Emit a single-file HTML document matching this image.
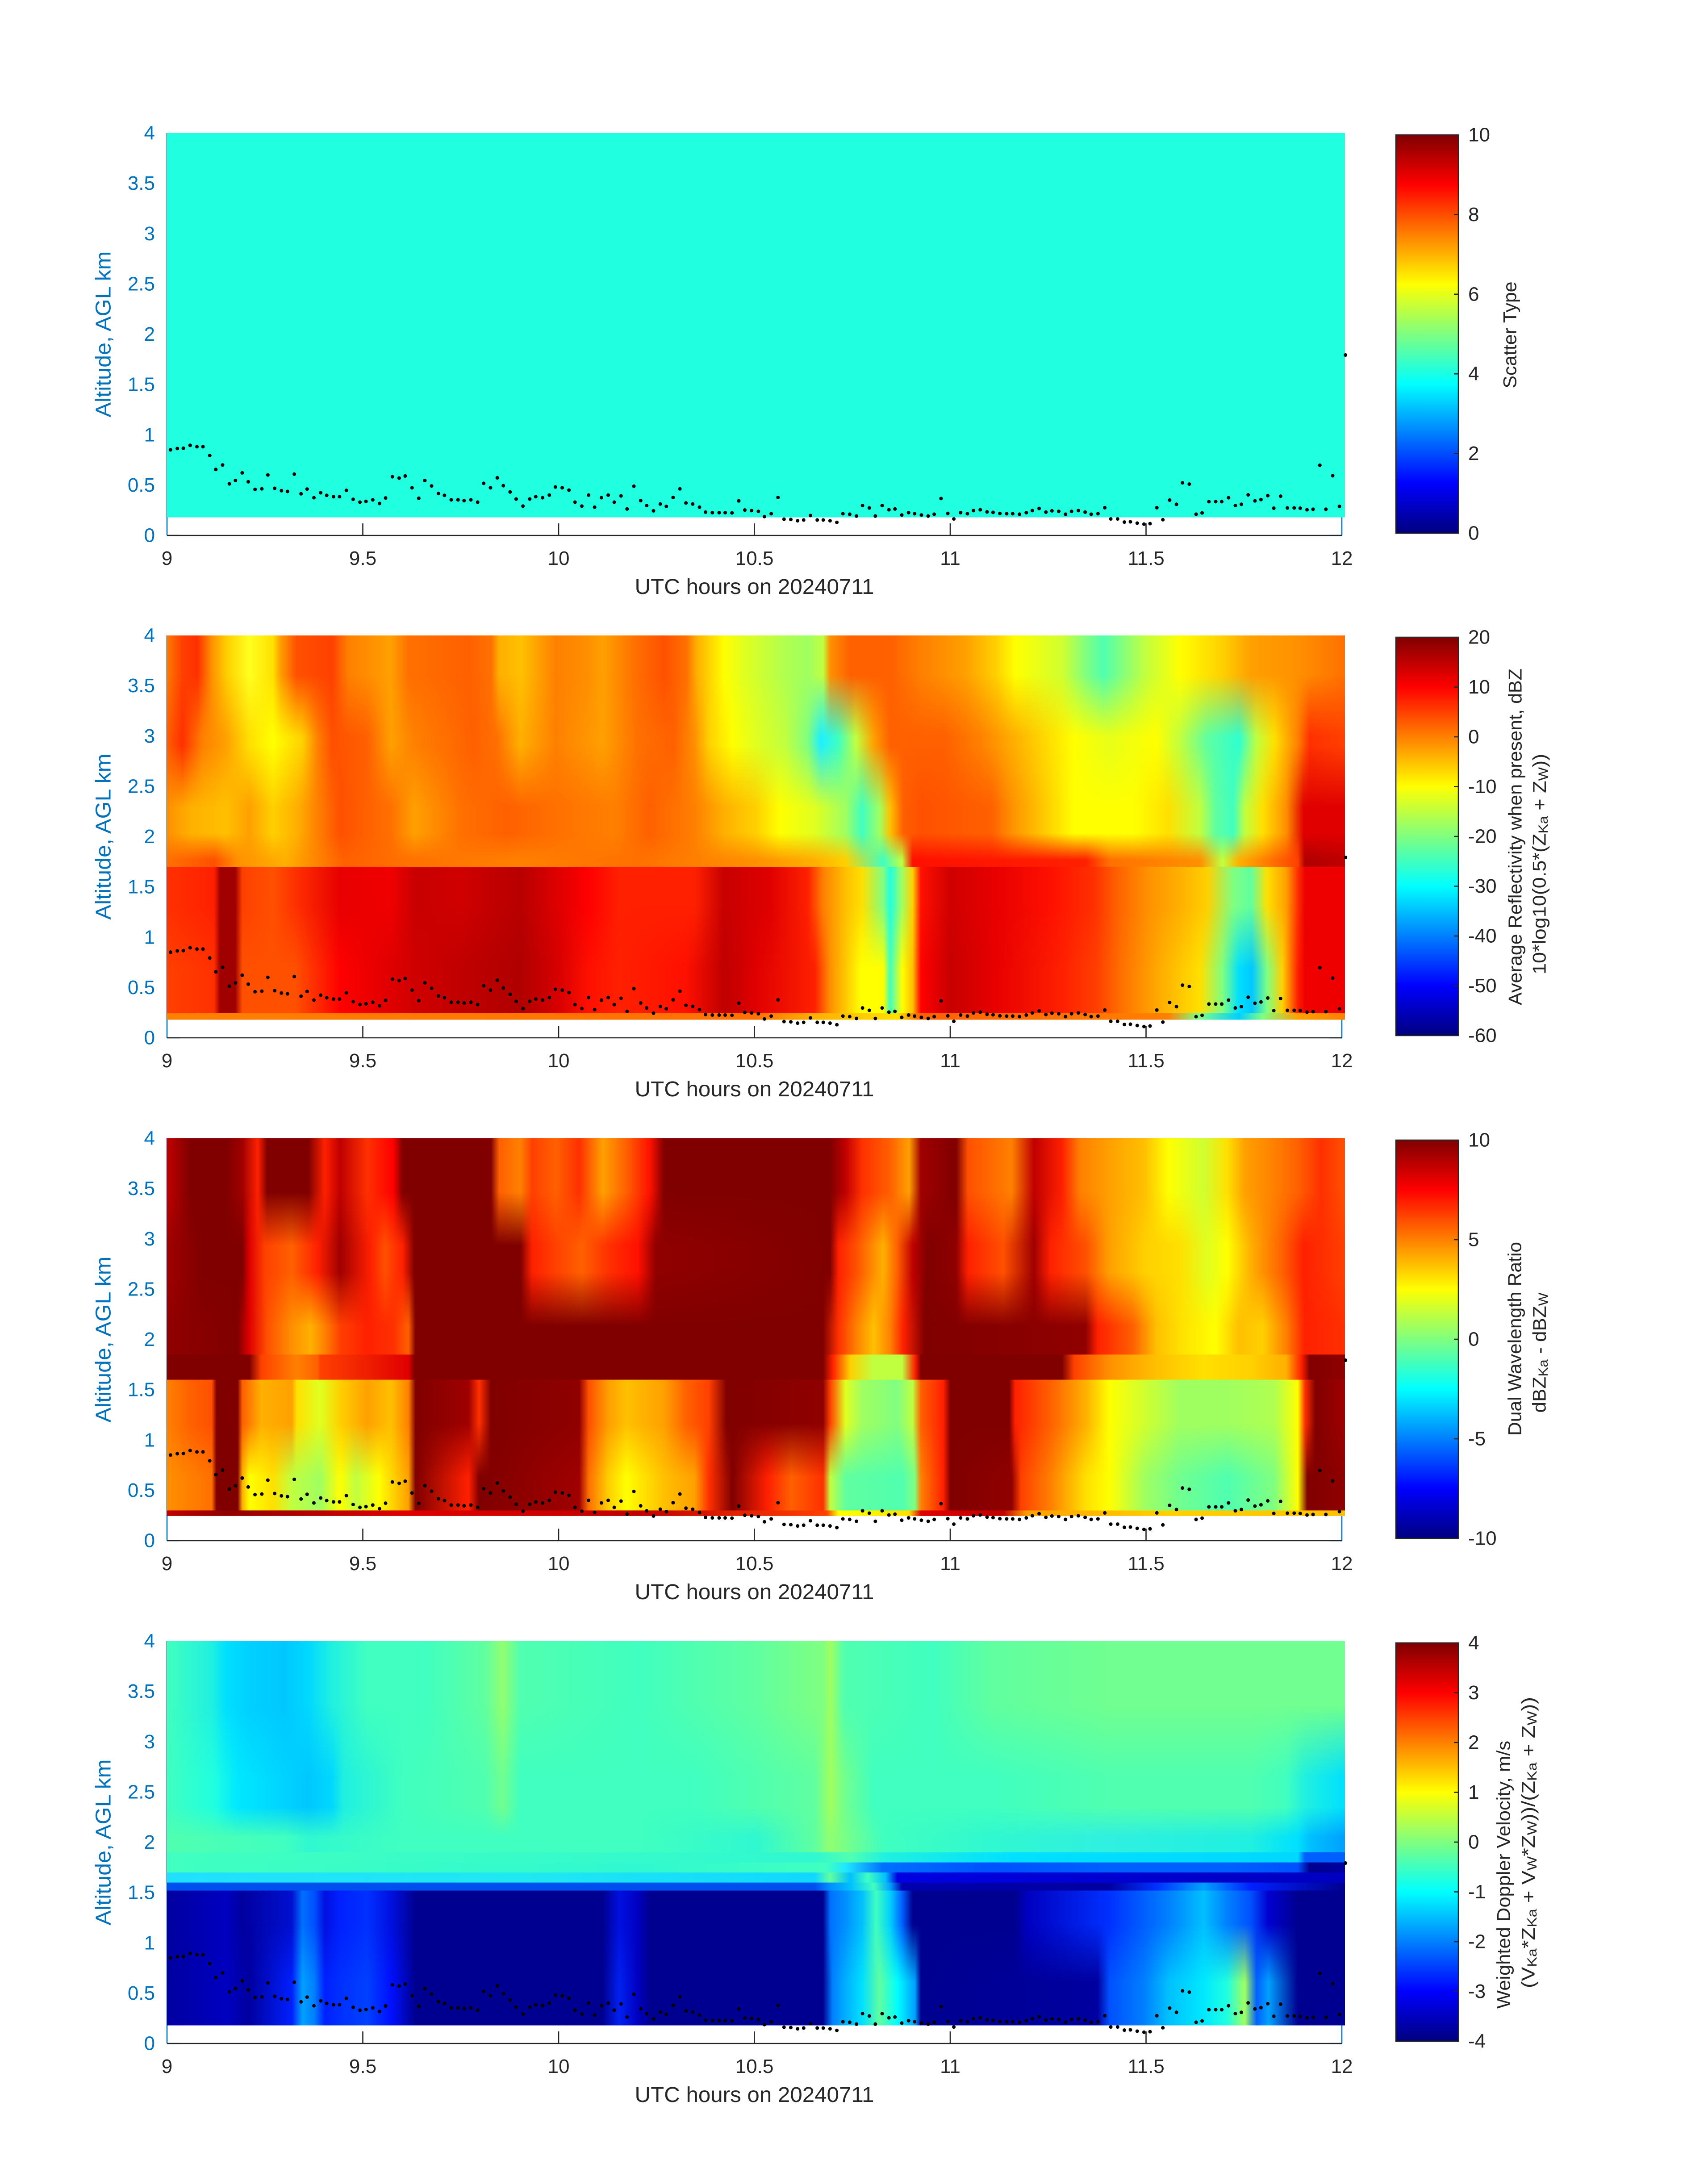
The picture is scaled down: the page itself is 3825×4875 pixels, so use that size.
<!DOCTYPE html>
<html><head><meta charset="utf-8"><style>
html,body{margin:0;padding:0;background:#fff;}
svg{display:block;}
text{font-family:"Liberation Sans",Arial,sans-serif;}
</style></head><body>
<svg width="3825" height="4875" viewBox="0 0 3825 4875">
<defs>
<linearGradient id="jet" x1="0" y1="1" x2="0" y2="0">
<stop offset="0" stop-color="#000080"/><stop offset=".125" stop-color="#0000ff"/><stop offset=".375" stop-color="#00ffff"/><stop offset=".625" stop-color="#ffff00"/><stop offset=".875" stop-color="#ff0000"/><stop offset="1" stop-color="#800000"/>
</linearGradient>
<linearGradient id="fa" x1="0" y1="0" x2="0" y2="1"><stop offset="0" stop-color="#fff" stop-opacity="0"/><stop offset="1" stop-color="#fff" stop-opacity="0.5"/></linearGradient>
<linearGradient id="fb" x1="0" y1="0" x2="0" y2="1"><stop offset="0" stop-color="#fff" stop-opacity="0.5"/><stop offset="1" stop-color="#fff" stop-opacity="0"/></linearGradient>
<mask id="mA" maskContentUnits="objectBoundingBox"><rect width="1" height="1" fill="url(#fa)"/></mask>
<mask id="mB" maskContentUnits="objectBoundingBox"><rect width="1" height="1" fill="url(#fb)"/></mask>

<!-- Panel 2 -->
<linearGradient id="g2a1"><stop offset="0%" stop-color="#ff7a00"/><stop offset="1.3%" stop-color="#ff4000"/><stop offset="2.6%" stop-color="#ff3000"/><stop offset="3.8%" stop-color="#ff9000"/><stop offset="5.1%" stop-color="#ffd000"/><stop offset="7%" stop-color="#ffff20"/><stop offset="9%" stop-color="#ffe000"/><stop offset="9.6%" stop-color="#ffa000"/><stop offset="11%" stop-color="#ff5000"/><stop offset="14%" stop-color="#ff4000"/><stop offset="15.4%" stop-color="#ff8000"/><stop offset="19%" stop-color="#ffa000"/><stop offset="20.5%" stop-color="#ff7000"/><stop offset="25.6%" stop-color="#ff6000"/><stop offset="27.5%" stop-color="#ff7000"/><stop offset="28.2%" stop-color="#ffb000"/><stop offset="30.1%" stop-color="#ffc000"/><stop offset="33%" stop-color="#ff8000"/><stop offset="35.8%" stop-color="#ff9000"/><stop offset="37%" stop-color="#ffa000"/><stop offset="39.7%" stop-color="#ff7000"/><stop offset="42.2%" stop-color="#ff5000"/><stop offset="44.1%" stop-color="#ff7000"/><stop offset="45%" stop-color="#ffb000"/><stop offset="47.3%" stop-color="#ffff00"/><stop offset="49%" stop-color="#e0ff20"/><stop offset="52.5%" stop-color="#b0ff50"/><stop offset="54.4%" stop-color="#a0ff60"/><stop offset="55.7%" stop-color="#c0ff40"/><stop offset="56.3%" stop-color="#ff9000"/><stop offset="58%" stop-color="#ff6000"/><stop offset="61.4%" stop-color="#ff6000"/><stop offset="64%" stop-color="#ff8000"/><stop offset="67.8%" stop-color="#ffa000"/><stop offset="70.4%" stop-color="#ffd000"/><stop offset="72%" stop-color="#ffff00"/><stop offset="76%" stop-color="#d0ff30"/><stop offset="78%" stop-color="#80ff80"/><stop offset="79.5%" stop-color="#50ffb0"/><stop offset="81%" stop-color="#80ff80"/><stop offset="83%" stop-color="#c0ff40"/><stop offset="86%" stop-color="#ffff00"/><stop offset="89.6%" stop-color="#ffd000"/><stop offset="92%" stop-color="#ffa000"/><stop offset="96%" stop-color="#ff9000"/><stop offset="100%" stop-color="#ff7000"/></linearGradient>
<linearGradient id="g2a2"><stop offset="0%" stop-color="#ff6000"/><stop offset="1.3%" stop-color="#ff3000"/><stop offset="3%" stop-color="#ff8000"/><stop offset="5%" stop-color="#ffa000"/><stop offset="7%" stop-color="#ffe000"/><stop offset="9%" stop-color="#ffff00"/><stop offset="11.5%" stop-color="#ffd000"/><stop offset="12.8%" stop-color="#ff8000"/><stop offset="14%" stop-color="#ff5000"/><stop offset="17%" stop-color="#ff6000"/><stop offset="19%" stop-color="#ffa000"/><stop offset="21%" stop-color="#ff8000"/><stop offset="26%" stop-color="#ff6000"/><stop offset="28%" stop-color="#ff7000"/><stop offset="30%" stop-color="#ffb000"/><stop offset="33%" stop-color="#ff8000"/><stop offset="37%" stop-color="#ffa000"/><stop offset="40%" stop-color="#ff7000"/><stop offset="43%" stop-color="#ff6000"/><stop offset="44.8%" stop-color="#ff9000"/><stop offset="46%" stop-color="#ffd000"/><stop offset="48%" stop-color="#ffff00"/><stop offset="50%" stop-color="#e0ff20"/><stop offset="52.5%" stop-color="#c0ff40"/><stop offset="54.4%" stop-color="#80ff80"/><stop offset="55.5%" stop-color="#20f0ff"/><stop offset="57%" stop-color="#40ffc0"/><stop offset="58.5%" stop-color="#c0ff40"/><stop offset="60%" stop-color="#ffa000"/><stop offset="61.4%" stop-color="#ff6000"/><stop offset="66%" stop-color="#ff6000"/><stop offset="69%" stop-color="#ff8000"/><stop offset="72%" stop-color="#ffb000"/><stop offset="74%" stop-color="#ffd000"/><stop offset="77%" stop-color="#ffff00"/><stop offset="80%" stop-color="#e8ff18"/><stop offset="84%" stop-color="#ffff00"/><stop offset="86%" stop-color="#c0ff40"/><stop offset="88.3%" stop-color="#60ffa0"/><stop offset="91%" stop-color="#30ffd0"/><stop offset="92.5%" stop-color="#c0ff40"/><stop offset="94%" stop-color="#ffe000"/><stop offset="96%" stop-color="#ff8000"/><stop offset="97%" stop-color="#ff3000"/><stop offset="100%" stop-color="#ff4000"/></linearGradient>
<linearGradient id="g2b"><stop offset="0%" stop-color="#ff9000"/><stop offset="2%" stop-color="#ffb000"/><stop offset="5%" stop-color="#ffc000"/><stop offset="7%" stop-color="#ffa000"/><stop offset="9%" stop-color="#ffd000"/><stop offset="11%" stop-color="#ffb000"/><stop offset="12.8%" stop-color="#ff8000"/><stop offset="14.7%" stop-color="#ff5000"/><stop offset="19%" stop-color="#ff7000"/><stop offset="21%" stop-color="#ffa000"/><stop offset="25%" stop-color="#ff7000"/><stop offset="28.8%" stop-color="#ff6000"/><stop offset="33%" stop-color="#ff7000"/><stop offset="38%" stop-color="#ff8000"/><stop offset="41%" stop-color="#ff6000"/><stop offset="44.8%" stop-color="#ff8000"/><stop offset="47.3%" stop-color="#ffb000"/><stop offset="50%" stop-color="#ffd000"/><stop offset="52%" stop-color="#ffff00"/><stop offset="55%" stop-color="#e0ff20"/><stop offset="57.6%" stop-color="#a0ff60"/><stop offset="59%" stop-color="#40ffc0"/><stop offset="60.5%" stop-color="#a0ff60"/><stop offset="61.4%" stop-color="#ffc000"/><stop offset="62.5%" stop-color="#ff6000"/><stop offset="64%" stop-color="#ff5000"/><stop offset="70%" stop-color="#ff6000"/><stop offset="71.7%" stop-color="#ff9000"/><stop offset="74%" stop-color="#ffc000"/><stop offset="77%" stop-color="#ffff00"/><stop offset="82%" stop-color="#ffff00"/><stop offset="85%" stop-color="#ffe000"/><stop offset="87.7%" stop-color="#c0ff40"/><stop offset="89%" stop-color="#60ffa0"/><stop offset="90.5%" stop-color="#40ffc0"/><stop offset="91.5%" stop-color="#c0ff40"/><stop offset="93%" stop-color="#ffe000"/><stop offset="95%" stop-color="#ff9000"/><stop offset="96.5%" stop-color="#e00000"/><stop offset="100%" stop-color="#e00000"/></linearGradient>
<linearGradient id="g2c"><stop offset="0%" stop-color="#ff7000"/><stop offset="4%" stop-color="#ff5000"/><stop offset="6%" stop-color="#ff9000"/><stop offset="10%" stop-color="#ffb000"/><stop offset="15%" stop-color="#ff6000"/><stop offset="20%" stop-color="#ff7000"/><stop offset="30%" stop-color="#ff8000"/><stop offset="40%" stop-color="#ff7000"/><stop offset="50%" stop-color="#ff9000"/><stop offset="55%" stop-color="#ffb000"/><stop offset="57.6%" stop-color="#ffd000"/><stop offset="60.8%" stop-color="#40ffc0"/><stop offset="62.4%" stop-color="#c0ff40"/><stop offset="63.3%" stop-color="#ff1000"/><stop offset="78%" stop-color="#ff2000"/><stop offset="80%" stop-color="#ff7000"/><stop offset="87.7%" stop-color="#ff9000"/><stop offset="89.6%" stop-color="#c0ff40"/><stop offset="91%" stop-color="#ffb000"/><stop offset="96%" stop-color="#ff4000"/><stop offset="96.6%" stop-color="#b00000"/><stop offset="100%" stop-color="#c00000"/></linearGradient>
<linearGradient id="g2d1"><stop offset="0%" stop-color="#ff3000"/><stop offset="4%" stop-color="#ff2000"/><stop offset="4.5%" stop-color="#a00000"/><stop offset="5.8%" stop-color="#a00000"/><stop offset="6.4%" stop-color="#ff4000"/><stop offset="9%" stop-color="#ff5000"/><stop offset="10.9%" stop-color="#ff3000"/><stop offset="14.7%" stop-color="#e80000"/><stop offset="19%" stop-color="#f00000"/><stop offset="21.1%" stop-color="#c80000"/><stop offset="25%" stop-color="#d00000"/><stop offset="28%" stop-color="#c00000"/><stop offset="30%" stop-color="#b80000"/><stop offset="33.3%" stop-color="#e00000"/><stop offset="35.8%" stop-color="#ff0000"/><stop offset="38.4%" stop-color="#ff2000"/><stop offset="44.8%" stop-color="#ff2000"/><stop offset="47.3%" stop-color="#c80000"/><stop offset="51.2%" stop-color="#e00000"/><stop offset="54.4%" stop-color="#ff2000"/><stop offset="55.7%" stop-color="#ff8000"/><stop offset="57.6%" stop-color="#ffc000"/><stop offset="59%" stop-color="#ffe000"/><stop offset="60.8%" stop-color="#80ff80"/><stop offset="61.4%" stop-color="#20ffe0"/><stop offset="62.4%" stop-color="#a0ff60"/><stop offset="63.3%" stop-color="#ffd000"/><stop offset="64%" stop-color="#ff1000"/><stop offset="66.5%" stop-color="#d00000"/><stop offset="70.4%" stop-color="#e80000"/><stop offset="75%" stop-color="#ff1000"/><stop offset="78.7%" stop-color="#ff3000"/><stop offset="80.6%" stop-color="#ff6000"/><stop offset="83.2%" stop-color="#ff9000"/><stop offset="86%" stop-color="#ffb000"/><stop offset="88.3%" stop-color="#ffd000"/><stop offset="90.5%" stop-color="#80ff80"/><stop offset="92%" stop-color="#60ffa0"/><stop offset="93.4%" stop-color="#ffe000"/><stop offset="95%" stop-color="#ffa000"/><stop offset="96%" stop-color="#ff3000"/><stop offset="96.6%" stop-color="#ee0000"/><stop offset="100%" stop-color="#ee0000"/></linearGradient>
<linearGradient id="g2d2"><stop offset="0%" stop-color="#ff4000"/><stop offset="4%" stop-color="#ff3000"/><stop offset="4.5%" stop-color="#a00000"/><stop offset="5.8%" stop-color="#a00000"/><stop offset="6.4%" stop-color="#ff5000"/><stop offset="10.9%" stop-color="#ff5000"/><stop offset="14.7%" stop-color="#ff0000"/><stop offset="21%" stop-color="#d00000"/><stop offset="25%" stop-color="#c00000"/><stop offset="30%" stop-color="#b00000"/><stop offset="33.3%" stop-color="#d80000"/><stop offset="35.8%" stop-color="#ff1000"/><stop offset="38.4%" stop-color="#ff2000"/><stop offset="44%" stop-color="#ff1000"/><stop offset="47.3%" stop-color="#c00000"/><stop offset="50%" stop-color="#e00000"/><stop offset="55%" stop-color="#ff2000"/><stop offset="56.3%" stop-color="#ff9000"/><stop offset="58.9%" stop-color="#ffff00"/><stop offset="60.8%" stop-color="#ffff00"/><stop offset="61.4%" stop-color="#40ffc0"/><stop offset="62.4%" stop-color="#ffff00"/><stop offset="63.3%" stop-color="#ffc000"/><stop offset="64%" stop-color="#ff0000"/><stop offset="66.5%" stop-color="#c80000"/><stop offset="70.4%" stop-color="#e80000"/><stop offset="76%" stop-color="#ff2000"/><stop offset="79%" stop-color="#ff4000"/><stop offset="81%" stop-color="#ff7000"/><stop offset="84.5%" stop-color="#ffb000"/><stop offset="87.7%" stop-color="#ffe000"/><stop offset="89.6%" stop-color="#80ff80"/><stop offset="91%" stop-color="#00e0ff"/><stop offset="92.1%" stop-color="#00c8ff"/><stop offset="93.4%" stop-color="#80ff80"/><stop offset="94.7%" stop-color="#ffd000"/><stop offset="96%" stop-color="#ff2000"/><stop offset="96.6%" stop-color="#f00000"/><stop offset="100%" stop-color="#ee0000"/></linearGradient>
<linearGradient id="g2e"><stop offset="0%" stop-color="#ff8000"/><stop offset="50%" stop-color="#ff7000"/><stop offset="55%" stop-color="#ffb000"/><stop offset="62%" stop-color="#ffe000"/><stop offset="64%" stop-color="#ff6000"/><stop offset="85%" stop-color="#ff8000"/><stop offset="87.5%" stop-color="#80ff80"/><stop offset="91%" stop-color="#00d0ff"/><stop offset="93%" stop-color="#80ff80"/><stop offset="96%" stop-color="#ffa000"/><stop offset="100%" stop-color="#ff8000"/></linearGradient>

<!-- Panel 3 -->
<linearGradient id="g3a1"><stop offset="0%" stop-color="#c00000"/><stop offset="2%" stop-color="#800000"/><stop offset="5%" stop-color="#800000"/><stop offset="6.4%" stop-color="#a00000"/><stop offset="7.7%" stop-color="#ff2000"/><stop offset="8.5%" stop-color="#800000"/><stop offset="12%" stop-color="#800000"/><stop offset="13.4%" stop-color="#ff2000"/><stop offset="14.7%" stop-color="#c00000"/><stop offset="17%" stop-color="#ff3000"/><stop offset="19.2%" stop-color="#ff0000"/><stop offset="20%" stop-color="#800000"/><stop offset="27.5%" stop-color="#800000"/><stop offset="28.2%" stop-color="#ff6000"/><stop offset="30%" stop-color="#ff8000"/><stop offset="31%" stop-color="#ff4000"/><stop offset="33%" stop-color="#ff6000"/><stop offset="35%" stop-color="#ff3000"/><stop offset="37%" stop-color="#ffa000"/><stop offset="39%" stop-color="#ff6000"/><stop offset="41%" stop-color="#ff1000"/><stop offset="42.2%" stop-color="#800000"/><stop offset="56.3%" stop-color="#800000"/><stop offset="57.6%" stop-color="#c00000"/><stop offset="59%" stop-color="#ff3000"/><stop offset="61.4%" stop-color="#ff6000"/><stop offset="63%" stop-color="#ffa000"/><stop offset="64%" stop-color="#a00000"/><stop offset="67%" stop-color="#800000"/><stop offset="68%" stop-color="#ff5000"/><stop offset="71.7%" stop-color="#ff8000"/><stop offset="73.6%" stop-color="#c00000"/><stop offset="76%" stop-color="#ff2000"/><stop offset="77.5%" stop-color="#ff8000"/><stop offset="80%" stop-color="#ffa000"/><stop offset="83%" stop-color="#ffc000"/><stop offset="85%" stop-color="#ffff00"/><stop offset="88%" stop-color="#d0ff30"/><stop offset="90%" stop-color="#ffe000"/><stop offset="91.5%" stop-color="#ffa000"/><stop offset="94%" stop-color="#ff8000"/><stop offset="96%" stop-color="#ff6000"/><stop offset="98%" stop-color="#ff3000"/><stop offset="100%" stop-color="#ff5000"/></linearGradient>
<linearGradient id="g3a2"><stop offset="0%" stop-color="#a00000"/><stop offset="3%" stop-color="#800000"/><stop offset="6.4%" stop-color="#800000"/><stop offset="7%" stop-color="#e00000"/><stop offset="8.3%" stop-color="#ff4000"/><stop offset="10.6%" stop-color="#ff6000"/><stop offset="12.8%" stop-color="#ff2000"/><stop offset="14.7%" stop-color="#a00000"/><stop offset="17.3%" stop-color="#ff2000"/><stop offset="18.5%" stop-color="#ff5000"/><stop offset="20%" stop-color="#ff2000"/><stop offset="21%" stop-color="#800000"/><stop offset="30%" stop-color="#800000"/><stop offset="31%" stop-color="#ff2000"/><stop offset="33%" stop-color="#ff4000"/><stop offset="35.2%" stop-color="#ff6000"/><stop offset="37.5%" stop-color="#ff3000"/><stop offset="40%" stop-color="#ff1000"/><stop offset="41.5%" stop-color="#900000"/><stop offset="56.3%" stop-color="#800000"/><stop offset="57%" stop-color="#ff2000"/><stop offset="58.5%" stop-color="#ff5000"/><stop offset="60.8%" stop-color="#ffb000"/><stop offset="62%" stop-color="#ff6000"/><stop offset="63.3%" stop-color="#c00000"/><stop offset="64.5%" stop-color="#800000"/><stop offset="67%" stop-color="#900000"/><stop offset="68%" stop-color="#ff2000"/><stop offset="71%" stop-color="#ff5000"/><stop offset="73.6%" stop-color="#a00000"/><stop offset="75%" stop-color="#ff2000"/><stop offset="78%" stop-color="#ff5000"/><stop offset="80%" stop-color="#ffa000"/><stop offset="83%" stop-color="#ffd000"/><stop offset="86%" stop-color="#ffe000"/><stop offset="88.3%" stop-color="#e0ff20"/><stop offset="90%" stop-color="#ffff00"/><stop offset="92%" stop-color="#ffb000"/><stop offset="94.7%" stop-color="#ff6000"/><stop offset="96.5%" stop-color="#ff2000"/><stop offset="100%" stop-color="#ff4000"/></linearGradient>
<linearGradient id="g3b"><stop offset="0%" stop-color="#900000"/><stop offset="6%" stop-color="#800000"/><stop offset="7%" stop-color="#e00000"/><stop offset="8.5%" stop-color="#ff5000"/><stop offset="10.6%" stop-color="#ff9000"/><stop offset="12.2%" stop-color="#ffb000"/><stop offset="13.4%" stop-color="#ff8000"/><stop offset="14.7%" stop-color="#ff4000"/><stop offset="17%" stop-color="#ff2000"/><stop offset="19.2%" stop-color="#ff3000"/><stop offset="20.5%" stop-color="#ff6000"/><stop offset="21.1%" stop-color="#800000"/><stop offset="55.7%" stop-color="#800000"/><stop offset="57%" stop-color="#ff3000"/><stop offset="58.5%" stop-color="#ff8000"/><stop offset="60%" stop-color="#ffc000"/><stop offset="61.4%" stop-color="#ff8000"/><stop offset="62.5%" stop-color="#ff2000"/><stop offset="64.3%" stop-color="#800000"/><stop offset="78%" stop-color="#900000"/><stop offset="79%" stop-color="#ff2000"/><stop offset="82%" stop-color="#ff6000"/><stop offset="84%" stop-color="#ffc000"/><stop offset="86%" stop-color="#ffe000"/><stop offset="89%" stop-color="#ffff00"/><stop offset="91%" stop-color="#ffc000"/><stop offset="93%" stop-color="#ffd000"/><stop offset="95%" stop-color="#ff8000"/><stop offset="96.6%" stop-color="#ff2000"/><stop offset="100%" stop-color="#ff3000"/></linearGradient>
<linearGradient id="g3c"><stop offset="0%" stop-color="#800000"/><stop offset="7%" stop-color="#800000"/><stop offset="8%" stop-color="#ff4000"/><stop offset="11%" stop-color="#ff8000"/><stop offset="12.8%" stop-color="#ff6000"/><stop offset="13%" stop-color="#ff4000"/><stop offset="20.5%" stop-color="#e00000"/><stop offset="21%" stop-color="#800000"/><stop offset="55.7%" stop-color="#800000"/><stop offset="56.5%" stop-color="#ff2000"/><stop offset="58%" stop-color="#ffd000"/><stop offset="60%" stop-color="#c0ff40"/><stop offset="62.4%" stop-color="#c0ff40"/><stop offset="63.5%" stop-color="#ff2000"/><stop offset="64%" stop-color="#800000"/><stop offset="76%" stop-color="#800000"/><stop offset="77%" stop-color="#ff4000"/><stop offset="80%" stop-color="#ff9000"/><stop offset="84%" stop-color="#ffc000"/><stop offset="88%" stop-color="#ffe000"/><stop offset="92%" stop-color="#ffd000"/><stop offset="95%" stop-color="#ffb000"/><stop offset="96.3%" stop-color="#ff2000"/><stop offset="97%" stop-color="#800000"/><stop offset="100%" stop-color="#900000"/></linearGradient>
<linearGradient id="g3d1"><stop offset="0%" stop-color="#ff8000"/><stop offset="2%" stop-color="#ff6000"/><stop offset="3.8%" stop-color="#ff5000"/><stop offset="4.2%" stop-color="#800000"/><stop offset="6%" stop-color="#800000"/><stop offset="6.4%" stop-color="#ff6000"/><stop offset="8%" stop-color="#ffb000"/><stop offset="10.6%" stop-color="#ffa000"/><stop offset="11%" stop-color="#ffe000"/><stop offset="13%" stop-color="#e0ff20"/><stop offset="14.7%" stop-color="#ffd000"/><stop offset="17%" stop-color="#ffa000"/><stop offset="19%" stop-color="#ffc000"/><stop offset="20.5%" stop-color="#ff8000"/><stop offset="21.1%" stop-color="#800000"/><stop offset="25.6%" stop-color="#a00000"/><stop offset="26.5%" stop-color="#ff3000"/><stop offset="27.5%" stop-color="#800000"/><stop offset="35%" stop-color="#900000"/><stop offset="35.8%" stop-color="#ff5000"/><stop offset="37.5%" stop-color="#ffa000"/><stop offset="39%" stop-color="#ffc000"/><stop offset="42.2%" stop-color="#ffa000"/><stop offset="44.1%" stop-color="#ff6000"/><stop offset="46%" stop-color="#ff4000"/><stop offset="47.5%" stop-color="#800000"/><stop offset="55.7%" stop-color="#900000"/><stop offset="56.3%" stop-color="#ff4000"/><stop offset="57.6%" stop-color="#e0ff20"/><stop offset="59%" stop-color="#a0ff60"/><stop offset="62%" stop-color="#80ff80"/><stop offset="63.3%" stop-color="#c0ff40"/><stop offset="64%" stop-color="#ff6000"/><stop offset="65.9%" stop-color="#ff2000"/><stop offset="66.5%" stop-color="#800000"/><stop offset="71.5%" stop-color="#800000"/><stop offset="72%" stop-color="#ff2000"/><stop offset="75%" stop-color="#ff6000"/><stop offset="78%" stop-color="#ffb000"/><stop offset="80%" stop-color="#ffff00"/><stop offset="83%" stop-color="#d0ff30"/><stop offset="86%" stop-color="#a0ff60"/><stop offset="90%" stop-color="#a0ff60"/><stop offset="94%" stop-color="#b0ff50"/><stop offset="96%" stop-color="#ffff00"/><stop offset="96.6%" stop-color="#ff3000"/><stop offset="97.5%" stop-color="#800000"/><stop offset="100%" stop-color="#a00000"/></linearGradient>
<linearGradient id="g3d2"><stop offset="0%" stop-color="#ff9000"/><stop offset="3.8%" stop-color="#ff7000"/><stop offset="4.2%" stop-color="#800000"/><stop offset="6%" stop-color="#800000"/><stop offset="6.4%" stop-color="#ffb000"/><stop offset="7%" stop-color="#ffff00"/><stop offset="9%" stop-color="#ffe000"/><stop offset="10.6%" stop-color="#c0ff40"/><stop offset="13%" stop-color="#a0ff60"/><stop offset="14.7%" stop-color="#ffff00"/><stop offset="16%" stop-color="#c0ff40"/><stop offset="18%" stop-color="#ffff00"/><stop offset="20.5%" stop-color="#ffa000"/><stop offset="21.1%" stop-color="#800000"/><stop offset="25.6%" stop-color="#ff2000"/><stop offset="26.5%" stop-color="#800000"/><stop offset="35%" stop-color="#a00000"/><stop offset="35.8%" stop-color="#ff7000"/><stop offset="37.5%" stop-color="#ffd000"/><stop offset="39%" stop-color="#ffff00"/><stop offset="42.2%" stop-color="#ffc000"/><stop offset="44.8%" stop-color="#ffa000"/><stop offset="46%" stop-color="#ff3000"/><stop offset="48%" stop-color="#800000"/><stop offset="51%" stop-color="#ff2000"/><stop offset="53%" stop-color="#ff6000"/><stop offset="55.7%" stop-color="#ff3000"/><stop offset="56.3%" stop-color="#c0ff40"/><stop offset="57.6%" stop-color="#60ffa0"/><stop offset="62.4%" stop-color="#50ffb0"/><stop offset="63.5%" stop-color="#80ff80"/><stop offset="64%" stop-color="#ff8000"/><stop offset="65.9%" stop-color="#ff2000"/><stop offset="66.5%" stop-color="#800000"/><stop offset="71.7%" stop-color="#900000"/><stop offset="72.5%" stop-color="#ff4000"/><stop offset="75%" stop-color="#ff8000"/><stop offset="78%" stop-color="#ffe000"/><stop offset="80%" stop-color="#ffff00"/><stop offset="83%" stop-color="#a0ff60"/><stop offset="86%" stop-color="#70ff90"/><stop offset="90%" stop-color="#50ffb0"/><stop offset="94%" stop-color="#80ff80"/><stop offset="96%" stop-color="#ffff00"/><stop offset="96.8%" stop-color="#800000"/><stop offset="100%" stop-color="#900000"/></linearGradient>
<linearGradient id="g3e"><stop offset="0%" stop-color="#c00000"/><stop offset="5%" stop-color="#900000"/><stop offset="20%" stop-color="#e00000"/><stop offset="40%" stop-color="#c00000"/><stop offset="56%" stop-color="#ff4000"/><stop offset="57%" stop-color="#ffff00"/><stop offset="63%" stop-color="#ffe000"/><stop offset="64%" stop-color="#e00000"/><stop offset="71%" stop-color="#c00000"/><stop offset="73%" stop-color="#ffa000"/><stop offset="85%" stop-color="#ffd000"/><stop offset="100%" stop-color="#ffc000"/></linearGradient>

<!-- Panel 4 -->
<linearGradient id="g4a1"><stop offset="0%" stop-color="#40ffc0"/><stop offset="3.8%" stop-color="#20f0e0"/><stop offset="5%" stop-color="#00e0ff"/><stop offset="7%" stop-color="#00d0ff"/><stop offset="10%" stop-color="#00c8ff"/><stop offset="12%" stop-color="#00d8ff"/><stop offset="14%" stop-color="#20f0e0"/><stop offset="17%" stop-color="#40ffc0"/><stop offset="22%" stop-color="#40ffc0"/><stop offset="27%" stop-color="#60ffa0"/><stop offset="28.5%" stop-color="#90ff70"/><stop offset="30%" stop-color="#50ffb0"/><stop offset="40%" stop-color="#40ffc0"/><stop offset="45%" stop-color="#50ffb0"/><stop offset="50%" stop-color="#60ffa0"/><stop offset="55.7%" stop-color="#80ff80"/><stop offset="56.3%" stop-color="#a0ff60"/><stop offset="57.5%" stop-color="#50ffb0"/><stop offset="65%" stop-color="#40ffc0"/><stop offset="70%" stop-color="#60ffa0"/><stop offset="80%" stop-color="#70ff90"/><stop offset="100%" stop-color="#70ff90"/></linearGradient>
<linearGradient id="g4a2"><stop offset="0%" stop-color="#40ffc0"/><stop offset="4%" stop-color="#20ffe0"/><stop offset="6%" stop-color="#00e8ff"/><stop offset="9%" stop-color="#00d8ff"/><stop offset="12%" stop-color="#00c8ff"/><stop offset="14%" stop-color="#00d8ff"/><stop offset="15%" stop-color="#20f0e0"/><stop offset="20%" stop-color="#40ffc0"/><stop offset="27%" stop-color="#50ffb0"/><stop offset="28.5%" stop-color="#70ff90"/><stop offset="30%" stop-color="#40ffc0"/><stop offset="45%" stop-color="#40ffc0"/><stop offset="50%" stop-color="#50ffb0"/><stop offset="55%" stop-color="#60ffa0"/><stop offset="56.3%" stop-color="#a0ff60"/><stop offset="57.6%" stop-color="#70ff90"/><stop offset="60%" stop-color="#40ffc0"/><stop offset="70%" stop-color="#40ffc0"/><stop offset="80%" stop-color="#50ffb0"/><stop offset="92%" stop-color="#50ffb0"/><stop offset="95%" stop-color="#40ffc0"/><stop offset="96.6%" stop-color="#20f0e0"/><stop offset="100%" stop-color="#00e0ff"/></linearGradient>
<linearGradient id="g4b"><stop offset="0%" stop-color="#50ffb0"/><stop offset="10%" stop-color="#40ffc0"/><stop offset="12%" stop-color="#30f8d0"/><stop offset="20%" stop-color="#40ffc0"/><stop offset="40%" stop-color="#40ffc0"/><stop offset="50%" stop-color="#30f8d0"/><stop offset="55%" stop-color="#60ffa0"/><stop offset="56.3%" stop-color="#90ff70"/><stop offset="58%" stop-color="#70ff90"/><stop offset="60.8%" stop-color="#40ffc0"/><stop offset="70%" stop-color="#30f8d0"/><stop offset="80%" stop-color="#30f0e0"/><stop offset="92%" stop-color="#20f0e0"/><stop offset="96%" stop-color="#00e0ff"/><stop offset="97%" stop-color="#00c0ff"/><stop offset="100%" stop-color="#00a0ff"/></linearGradient>
<linearGradient id="g4c1"><stop offset="0%" stop-color="#40ffc0"/><stop offset="55%" stop-color="#30f8d0"/><stop offset="58%" stop-color="#50ffb0"/><stop offset="61%" stop-color="#20f0e0"/><stop offset="72%" stop-color="#00e0ff"/><stop offset="96%" stop-color="#00d8ff"/><stop offset="96.6%" stop-color="#0060ff"/><stop offset="100%" stop-color="#0060ff"/></linearGradient>
<linearGradient id="g4c2"><stop offset="0%" stop-color="#40ffc0"/><stop offset="40%" stop-color="#30f8d0"/><stop offset="56%" stop-color="#40ffc0"/><stop offset="57.6%" stop-color="#20e8ff"/><stop offset="60.8%" stop-color="#0070ff"/><stop offset="70%" stop-color="#0050ff"/><stop offset="80%" stop-color="#0060ff"/><stop offset="90%" stop-color="#0060ff"/><stop offset="96%" stop-color="#0050ff"/><stop offset="97%" stop-color="#000090"/><stop offset="100%" stop-color="#0000a0"/></linearGradient>
<linearGradient id="g4c3"><stop offset="0%" stop-color="#20e0ff"/><stop offset="30%" stop-color="#20e8f0"/><stop offset="55%" stop-color="#10d8ff"/><stop offset="56.3%" stop-color="#60ffa0"/><stop offset="58%" stop-color="#00c0ff"/><stop offset="59.5%" stop-color="#40ffc0"/><stop offset="61%" stop-color="#00c0ff"/><stop offset="62%" stop-color="#0000e0"/><stop offset="100%" stop-color="#0000c0"/></linearGradient>
<linearGradient id="g4c4"><stop offset="0%" stop-color="#0050f0"/><stop offset="55%" stop-color="#0050f0"/><stop offset="56.3%" stop-color="#0090ff"/><stop offset="58%" stop-color="#00c0ff"/><stop offset="60%" stop-color="#40ffc0"/><stop offset="61.4%" stop-color="#00a0ff"/><stop offset="62.4%" stop-color="#0000b0"/><stop offset="80%" stop-color="#0000a0"/><stop offset="84%" stop-color="#0030ff"/><stop offset="88%" stop-color="#00a0ff"/><stop offset="92%" stop-color="#0020ff"/><stop offset="100%" stop-color="#000090"/></linearGradient>
<linearGradient id="g4d1"><stop offset="0%" stop-color="#0000a0"/><stop offset="5%" stop-color="#0000c0"/><stop offset="6.4%" stop-color="#0000a0"/><stop offset="10.6%" stop-color="#0010d0"/><stop offset="11.5%" stop-color="#0070ff"/><stop offset="12.5%" stop-color="#0050ff"/><stop offset="13.4%" stop-color="#0010e0"/><stop offset="14.7%" stop-color="#0020ff"/><stop offset="17%" stop-color="#0030ff"/><stop offset="19%" stop-color="#0010e0"/><stop offset="21.1%" stop-color="#000090"/><stop offset="37%" stop-color="#000090"/><stop offset="38.4%" stop-color="#0010e0"/><stop offset="40%" stop-color="#0000c0"/><stop offset="41%" stop-color="#000090"/><stop offset="55.7%" stop-color="#000090"/><stop offset="56.3%" stop-color="#0070ff"/><stop offset="57.6%" stop-color="#0090ff"/><stop offset="59%" stop-color="#00c0ff"/><stop offset="60.2%" stop-color="#40ffc0"/><stop offset="61.4%" stop-color="#00d0ff"/><stop offset="62.4%" stop-color="#0060ff"/><stop offset="63.3%" stop-color="#000090"/><stop offset="72%" stop-color="#000090"/><stop offset="73%" stop-color="#0000c0"/><stop offset="80%" stop-color="#0030ff"/><stop offset="83%" stop-color="#0060ff"/><stop offset="85%" stop-color="#0080ff"/><stop offset="88%" stop-color="#00c0ff"/><stop offset="90%" stop-color="#0080ff"/><stop offset="92%" stop-color="#0050ff"/><stop offset="93.5%" stop-color="#0000d0"/><stop offset="96%" stop-color="#000090"/><stop offset="100%" stop-color="#000090"/></linearGradient>
<linearGradient id="g4d2"><stop offset="0%" stop-color="#0000a0"/><stop offset="5%" stop-color="#0000c0"/><stop offset="7%" stop-color="#0000a0"/><stop offset="10.6%" stop-color="#0020ff"/><stop offset="11.5%" stop-color="#00a0ff"/><stop offset="12.5%" stop-color="#0080ff"/><stop offset="13.4%" stop-color="#0020ff"/><stop offset="14.7%" stop-color="#0030ff"/><stop offset="17%" stop-color="#0040ff"/><stop offset="19%" stop-color="#0010ff"/><stop offset="21.1%" stop-color="#000090"/><stop offset="37%" stop-color="#000090"/><stop offset="38.4%" stop-color="#0020f0"/><stop offset="40%" stop-color="#0000c0"/><stop offset="41%" stop-color="#000090"/><stop offset="55.7%" stop-color="#000090"/><stop offset="56.5%" stop-color="#0080ff"/><stop offset="57.6%" stop-color="#00b0ff"/><stop offset="59%" stop-color="#00e0ff"/><stop offset="60.5%" stop-color="#60ffa0"/><stop offset="62%" stop-color="#00ffff"/><stop offset="63.5%" stop-color="#00a0ff"/><stop offset="64%" stop-color="#000090"/><stop offset="79%" stop-color="#0000a0"/><stop offset="80%" stop-color="#0050ff"/><stop offset="83%" stop-color="#0080ff"/><stop offset="85%" stop-color="#00c0ff"/><stop offset="88%" stop-color="#00e8ff"/><stop offset="90%" stop-color="#20ffe0"/><stop offset="91.5%" stop-color="#a0ff60"/><stop offset="92.5%" stop-color="#0060ff"/><stop offset="93.5%" stop-color="#00a0ff"/><stop offset="96%" stop-color="#000090"/><stop offset="100%" stop-color="#000090"/></linearGradient>

<path id="dots" transform="translate(370,1411) scale(1.690,0.5864)" fill="none" stroke="#000" stroke-width="8" stroke-linecap="round" vector-effect="non-scaling-stroke" d="M7 1230h.01M16 1225h.01M24 1224h.01M33 1213h.01M42 1218h.01M50 1218h.01M59 1252h.01M67 1305h.01M76 1288h.01M85 1360h.01M93 1347h.01M102 1318h.01M110 1352h.01M119 1381h.01M128 1379h.01M136 1326h.01M145 1377h.01M154 1386h.01M162 1389h.01M171 1323h.01M180 1398h.01M188 1380h.01M197 1413h.01M206 1394h.01M214 1404h.01M223 1409h.01M231 1409h.01M240 1385h.01M249 1419h.01M258 1430h.01M266 1427h.01M275 1421h.01M284 1435h.01M292 1414h.01M301 1333h.01M310 1338h.01M318 1330h.01M327 1375h.01M336 1415h.01M344 1347h.01M353 1368h.01M362 1397h.01M370 1404h.01M379 1421h.01M388 1421h.01M396 1424h.01M405 1421h.01M414 1430h.01M422 1358h.01M431 1375h.01M440 1337h.01M448 1367h.01M457 1391h.01M465 1418h.01M474 1445h.01M483 1418h.01M491 1409h.01M500 1413h.01M509 1403h.01M517 1372h.01M526 1375h.01M535 1384h.01M543 1430h.01M552 1445h.01M561 1403h.01M569 1449h.01M578 1413h.01M587 1403h.01M595 1430h.01M604 1406h.01M612 1456h.01M621 1369h.01M630 1424h.01M638 1443h.01M647 1463h.01M656 1437h.01M664 1446h.01M673 1412h.01M682 1379h.01M690 1433h.01M699 1437h.01M708 1449h.01M716 1468h.01M725 1470h.01M734 1470h.01M742 1470h.01M751 1471h.01M760 1425h.01M768 1460h.01M777 1462h.01M786 1465h.01M794 1485h.01M803 1474h.01M812 1412h.01M820 1495h.01M829 1496h.01M838 1501h.01M846 1498h.01M855 1481h.01M864 1498h.01M872 1498h.01M881 1501h.01M890 1507h.01M898 1474h.01M907 1476h.01M916 1483h.01M924 1443h.01M933 1452h.01M941 1483h.01M950 1443h.01M959 1459h.01M967 1456h.01M976 1479h.01M985 1470h.01M993 1474h.01M1002 1479h.01M1011 1483h.01M1019 1476h.01M1028 1416h.01M1037 1473h.01M1045 1494h.01M1054 1470h.01M1063 1474h.01M1071 1462h.01M1080 1459h.01M1089 1467h.01M1097 1469h.01M1106 1473h.01M1115 1474h.01M1123 1474h.01M1132 1476h.01M1141 1470h.01M1149 1462h.01M1158 1454h.01M1167 1468h.01M1175 1463h.01M1184 1465h.01M1193 1476h.01M1201 1465h.01M1210 1462h.01M1219 1468h.01M1227 1476h.01M1236 1474h.01M1245 1451h.01M1253 1494h.01M1262 1494h.01M1271 1506h.01M1279 1505h.01M1288 1510h.01M1297 1514h.01M1305 1512h.01M1314 1451h.01M1322 1497h.01M1331 1422h.01M1340 1438h.01M1348 1356h.01M1357 1361h.01M1366 1476h.01M1374 1471h.01M1383 1428h.01M1392 1428h.01M1400 1428h.01M1409 1413h.01M1418 1443h.01M1426 1438h.01M1435 1402h.01M1444 1425h.01M1452 1420h.01M1461 1405h.01M1469 1453h.01M1478 1407h.01M1487 1452h.01M1496 1452h.01M1504 1453h.01M1513 1459h.01M1521 1457h.01M1530 1289h.01M1538 1457h.01M1547 1329h.01M1556 1446h.01M1564 868h.01"/>
</defs>

<!-- ================= PANEL 1 ================= -->
<g stroke="#0072BD" stroke-width="2.6">
<line x1="374" y1="298" x2="374" y2="1199"/><line x1="3005" y1="298" x2="3005" y2="1199"/>
<line x1="374" y1="1199" x2="402" y2="1199"/><line x1="3005" y1="1199" x2="2977" y2="1199"/>
</g>
<rect x="374" y="298" width="2638" height="860.5" fill="#20ffdf"/>
<use href="#dots" transform="translate(0,-1125)"/>
<g stroke="#262626" stroke-width="2.6">
<line x1="374" y1="1199" x2="3005" y2="1199"/>
<line x1="812.5" y1="1199" x2="812.5" y2="1172"/><line x1="1251" y1="1199" x2="1251" y2="1172"/><line x1="1689.5" y1="1199" x2="1689.5" y2="1172"/><line x1="2128" y1="1199" x2="2128" y2="1172"/><line x1="2566.5" y1="1199" x2="2566.5" y2="1172"/>
</g>
<g font-size="44" fill="#0072BD" text-anchor="end" dominant-baseline="central">
<text x="347" y="1199">0</text><text x="347" y="1086.4">0.5</text><text x="347" y="973.8">1</text><text x="347" y="861.1">1.5</text><text x="347" y="748.5">2</text><text x="347" y="635.9">2.5</text><text x="347" y="523.3">3</text><text x="347" y="410.6">3.5</text><text x="347" y="298">4</text>
</g>
<g font-size="44" fill="#262626" text-anchor="middle">
<text x="374" y="1265">9</text><text x="812.5" y="1265">9.5</text><text x="1251" y="1265">10</text><text x="1689.5" y="1265">10.5</text><text x="2128" y="1265">11</text><text x="2566.5" y="1265">11.5</text><text x="3005" y="1265">12</text>
</g>
<text x="1689.5" y="1330" font-size="48" fill="#262626" text-anchor="middle" textLength="536" lengthAdjust="spacingAndGlyphs">UTC hours on 20240711</text>
<text transform="translate(232,748.5) rotate(-90)" font-size="48" fill="#0072BD" text-anchor="middle" dominant-baseline="central" textLength="372" lengthAdjust="spacingAndGlyphs">Altitude, AGL km</text>
<rect x="3126" y="302" width="140" height="892" fill="url(#jet)" stroke="#262626" stroke-width="2.6"/>
<g stroke="#262626" stroke-width="2.6">
<line x1="3256" y1="1015.6" x2="3266" y2="1015.6"/><line x1="3256" y1="837.2" x2="3266" y2="837.2"/><line x1="3256" y1="658.8" x2="3266" y2="658.8"/><line x1="3256" y1="480.4" x2="3266" y2="480.4"/>
</g>
<g font-size="44" fill="#262626" dominant-baseline="central">
<text x="3288" y="1194">0</text><text x="3288" y="1015.6">2</text><text x="3288" y="837.2">4</text><text x="3288" y="658.8">6</text><text x="3288" y="480.4">8</text><text x="3288" y="302">10</text>
</g>
<text transform="translate(3381,750) rotate(-90)" font-size="42" fill="#262626" text-anchor="middle" dominant-baseline="central" textLength="239" lengthAdjust="spacingAndGlyphs">Scatter Type</text>

<!-- ================= PANEL 2 ================= -->
<g stroke="#0072BD" stroke-width="2.6">
<line x1="374" y1="1423" x2="374" y2="2324"/><line x1="3005" y1="1423" x2="3005" y2="2324"/>
<line x1="374" y1="2324" x2="402" y2="2324"/><line x1="3005" y1="2324" x2="2977" y2="2324"/>
</g>
<rect x="374" y="1423" width="2638" height="158.7" fill="url(#g2a1)"/>
<rect x="374" y="1580.7" width="2638" height="158.7" fill="url(#g2a2)"/>
<rect x="374" y="1738.4" width="2638" height="158.6" fill="url(#g2b)"/>
<rect x="374" y="1896" width="2638" height="46" fill="url(#g2c)"/>
<rect x="374" y="1941" width="2638" height="158.8" fill="url(#g2d1)"/>
<rect x="374" y="2098.8" width="2638" height="170.5" fill="url(#g2d2)"/>
<rect x="374" y="2268.8" width="2638" height="14.7" fill="url(#g2e)"/>
<rect x="374" y="1510.7" width="2638" height="70" fill="url(#g2a2)" mask="url(#mA)"/>
<rect x="374" y="1580.7" width="2638" height="70" fill="url(#g2a1)" mask="url(#mB)"/>
<rect x="374" y="1668.4" width="2638" height="70" fill="url(#g2b)" mask="url(#mA)"/>
<rect x="374" y="1738.4" width="2638" height="70" fill="url(#g2a2)" mask="url(#mB)"/>
<rect x="374" y="1866" width="2638" height="30" fill="url(#g2c)" mask="url(#mA)"/>
<rect x="374" y="1896" width="2638" height="30" fill="url(#g2b)" mask="url(#mB)"/>
<rect x="374" y="2028.8" width="2638" height="70" fill="url(#g2d2)" mask="url(#mA)"/>
<rect x="374" y="2098.8" width="2638" height="70" fill="url(#g2d1)" mask="url(#mB)"/>
<use href="#dots"/>
<g stroke="#262626" stroke-width="2.6">
<line x1="374" y1="2324" x2="3005" y2="2324"/>
<line x1="812.5" y1="2324" x2="812.5" y2="2297"/><line x1="1251" y1="2324" x2="1251" y2="2297"/><line x1="1689.5" y1="2324" x2="1689.5" y2="2297"/><line x1="2128" y1="2324" x2="2128" y2="2297"/><line x1="2566.5" y1="2324" x2="2566.5" y2="2297"/>
</g>
<g font-size="44" fill="#0072BD" text-anchor="end" dominant-baseline="central">
<text x="347" y="2324">0</text><text x="347" y="2211.4">0.5</text><text x="347" y="2098.8">1</text><text x="347" y="1986.1">1.5</text><text x="347" y="1873.5">2</text><text x="347" y="1760.9">2.5</text><text x="347" y="1648.3">3</text><text x="347" y="1535.6">3.5</text><text x="347" y="1423">4</text>
</g>
<g font-size="44" fill="#262626" text-anchor="middle">
<text x="374" y="2390">9</text><text x="812.5" y="2390">9.5</text><text x="1251" y="2390">10</text><text x="1689.5" y="2390">10.5</text><text x="2128" y="2390">11</text><text x="2566.5" y="2390">11.5</text><text x="3005" y="2390">12</text>
</g>
<text x="1689.5" y="2455" font-size="48" fill="#262626" text-anchor="middle" textLength="536" lengthAdjust="spacingAndGlyphs">UTC hours on 20240711</text>
<text transform="translate(232,1873.5) rotate(-90)" font-size="48" fill="#0072BD" text-anchor="middle" dominant-baseline="central" textLength="372" lengthAdjust="spacingAndGlyphs">Altitude, AGL km</text>
<rect x="3126" y="1427" width="140" height="892" fill="url(#jet)" stroke="#262626" stroke-width="2.6"/>
<g stroke="#262626" stroke-width="2.6">
<line x1="3256" y1="2207.5" x2="3266" y2="2207.5"/><line x1="3256" y1="2096" x2="3266" y2="2096"/><line x1="3256" y1="1984.5" x2="3266" y2="1984.5"/><line x1="3256" y1="1873" x2="3266" y2="1873"/><line x1="3256" y1="1761.5" x2="3266" y2="1761.5"/><line x1="3256" y1="1650" x2="3266" y2="1650"/><line x1="3256" y1="1538.5" x2="3266" y2="1538.5"/>
</g>
<g font-size="44" fill="#262626" dominant-baseline="central">
<text x="3288" y="2319">-60</text><text x="3288" y="2207.5">-50</text><text x="3288" y="2096">-40</text><text x="3288" y="1984.5">-30</text><text x="3288" y="1873">-20</text><text x="3288" y="1761.5">-10</text><text x="3288" y="1650">0</text><text x="3288" y="1538.5">10</text><text x="3288" y="1427">20</text>
</g>
<text transform="translate(3393,1874) rotate(-90)" font-size="42" fill="#262626" text-anchor="middle" dominant-baseline="central" textLength="754" lengthAdjust="spacingAndGlyphs">Average Reflectivity when present, dBZ</text>
<text transform="translate(3447,1935) rotate(-90)" font-size="42" fill="#262626" text-anchor="middle" dominant-baseline="central" textLength="494" lengthAdjust="spacingAndGlyphs">10*log10(0.5*(Z<tspan font-size="30" dy="9">Ka</tspan><tspan dy="-9"> + Z</tspan><tspan font-size="30" dy="9">W</tspan><tspan dy="-9">))</tspan></text>

<!-- ================= PANEL 3 ================= -->
<g stroke="#0072BD" stroke-width="2.6">
<line x1="374" y1="2549" x2="374" y2="3450"/><line x1="3005" y1="2549" x2="3005" y2="3450"/>
<line x1="374" y1="3450" x2="402" y2="3450"/><line x1="3005" y1="3450" x2="2977" y2="3450"/>
</g>
<rect x="374" y="2549" width="2638" height="181.2" fill="url(#g3a1)"/>
<rect x="374" y="2729.2" width="2638" height="181.2" fill="url(#g3a2)"/>
<rect x="374" y="2909.4" width="2638" height="124.9" fill="url(#g3b)"/>
<rect x="374" y="3033.3" width="2638" height="57.3" fill="url(#g3c)"/>
<rect x="374" y="3089.6" width="2638" height="158.7" fill="url(#g3d1)"/>
<rect x="374" y="3247.3" width="2638" height="136.1" fill="url(#g3d2)"/>
<rect x="374" y="3382.4" width="2638" height="12.4" fill="url(#g3e)"/>
<rect x="374" y="2669.2" width="2638" height="60" fill="url(#g3a2)" mask="url(#mA)"/>
<rect x="374" y="2729.2" width="2638" height="60" fill="url(#g3a1)" mask="url(#mB)"/>
<rect x="374" y="2849.4" width="2638" height="60" fill="url(#g3b)" mask="url(#mA)"/>
<rect x="374" y="2909.4" width="2638" height="60" fill="url(#g3a2)" mask="url(#mB)"/>
<rect x="374" y="3187.3" width="2638" height="60" fill="url(#g3d2)" mask="url(#mA)"/>
<rect x="374" y="3247.3" width="2638" height="60" fill="url(#g3d1)" mask="url(#mB)"/>
<use href="#dots" transform="translate(0,1126)"/>
<g stroke="#262626" stroke-width="2.6">
<line x1="374" y1="3450" x2="3005" y2="3450"/>
<line x1="812.5" y1="3450" x2="812.5" y2="3423"/><line x1="1251" y1="3450" x2="1251" y2="3423"/><line x1="1689.5" y1="3450" x2="1689.5" y2="3423"/><line x1="2128" y1="3450" x2="2128" y2="3423"/><line x1="2566.5" y1="3450" x2="2566.5" y2="3423"/>
</g>
<g font-size="44" fill="#0072BD" text-anchor="end" dominant-baseline="central">
<text x="347" y="3450">0</text><text x="347" y="3337.4">0.5</text><text x="347" y="3224.8">1</text><text x="347" y="3112.1">1.5</text><text x="347" y="2999.5">2</text><text x="347" y="2886.9">2.5</text><text x="347" y="2774.3">3</text><text x="347" y="2661.6">3.5</text><text x="347" y="2549">4</text>
</g>
<g font-size="44" fill="#262626" text-anchor="middle">
<text x="374" y="3516">9</text><text x="812.5" y="3516">9.5</text><text x="1251" y="3516">10</text><text x="1689.5" y="3516">10.5</text><text x="2128" y="3516">11</text><text x="2566.5" y="3516">11.5</text><text x="3005" y="3516">12</text>
</g>
<text x="1689.5" y="3581" font-size="48" fill="#262626" text-anchor="middle" textLength="536" lengthAdjust="spacingAndGlyphs">UTC hours on 20240711</text>
<text transform="translate(232,2999.5) rotate(-90)" font-size="48" fill="#0072BD" text-anchor="middle" dominant-baseline="central" textLength="372" lengthAdjust="spacingAndGlyphs">Altitude, AGL km</text>
<rect x="3126" y="2553" width="140" height="892" fill="url(#jet)" stroke="#262626" stroke-width="2.6"/>
<g stroke="#262626" stroke-width="2.6">
<line x1="3256" y1="3222" x2="3266" y2="3222"/><line x1="3256" y1="2999" x2="3266" y2="2999"/><line x1="3256" y1="2776" x2="3266" y2="2776"/>
</g>
<g font-size="44" fill="#262626" dominant-baseline="central">
<text x="3288" y="3445">-10</text><text x="3288" y="3222">-5</text><text x="3288" y="2999">0</text><text x="3288" y="2776">5</text><text x="3288" y="2553">10</text>
</g>
<text transform="translate(3392,2998) rotate(-90)" font-size="42" fill="#262626" text-anchor="middle" dominant-baseline="central" textLength="434" lengthAdjust="spacingAndGlyphs">Dual Wavelength Ratio</text>
<text transform="translate(3447,3029) rotate(-90)" font-size="42" fill="#262626" text-anchor="middle" dominant-baseline="central" textLength="269" lengthAdjust="spacingAndGlyphs">dBZ<tspan font-size="30" dy="9">Ka</tspan><tspan dy="-9"> - dBZ</tspan><tspan font-size="30" dy="9">W</tspan></text>

<!-- ================= PANEL 4 ================= -->
<g stroke="#0072BD" stroke-width="2.6">
<line x1="374" y1="3675" x2="374" y2="4576"/><line x1="3005" y1="3675" x2="3005" y2="4576"/>
<line x1="374" y1="4576" x2="402" y2="4576"/><line x1="3005" y1="4576" x2="2977" y2="4576"/>
</g>
<rect x="374" y="3675" width="2638" height="226.25" fill="url(#g4a1)"/>
<rect x="374" y="3900.25" width="2638" height="181.2" fill="url(#g4a2)"/>
<rect x="374" y="4080.45" width="2638" height="68.55" fill="url(#g4b)"/>
<rect x="374" y="4148" width="2638" height="23.6" fill="url(#g4c1)"/>
<rect x="374" y="4170.6" width="2638" height="23.5" fill="url(#g4c2)"/>
<rect x="374" y="4193.1" width="2638" height="23.5" fill="url(#g4c3)"/>
<rect x="374" y="4215.6" width="2638" height="19" fill="url(#g4c4)"/>
<rect x="374" y="4233.6" width="2638" height="140.7" fill="url(#g4d1)"/>
<rect x="374" y="4373.3" width="2638" height="162.2" fill="url(#g4d2)"/>
<rect x="374" y="3820.25" width="2638" height="80" fill="url(#g4a2)" mask="url(#mA)"/>
<rect x="374" y="3900.25" width="2638" height="80" fill="url(#g4a1)" mask="url(#mB)"/>
<rect x="374" y="4046.45" width="2638" height="34" fill="url(#g4b)" mask="url(#mA)"/>
<rect x="374" y="4080.45" width="2638" height="34" fill="url(#g4a2)" mask="url(#mB)"/>
<rect x="374" y="4308.3" width="2638" height="65" fill="url(#g4d2)" mask="url(#mA)"/>
<rect x="374" y="4373.3" width="2638" height="65" fill="url(#g4d1)" mask="url(#mB)"/>
<use href="#dots" transform="translate(0,2252)"/>
<g stroke="#262626" stroke-width="2.6">
<line x1="374" y1="4576" x2="3005" y2="4576"/>
<line x1="812.5" y1="4576" x2="812.5" y2="4549"/><line x1="1251" y1="4576" x2="1251" y2="4549"/><line x1="1689.5" y1="4576" x2="1689.5" y2="4549"/><line x1="2128" y1="4576" x2="2128" y2="4549"/><line x1="2566.5" y1="4576" x2="2566.5" y2="4549"/>
</g>
<g font-size="44" fill="#0072BD" text-anchor="end" dominant-baseline="central">
<text x="347" y="4576">0</text><text x="347" y="4463.4">0.5</text><text x="347" y="4350.8">1</text><text x="347" y="4238.1">1.5</text><text x="347" y="4125.5">2</text><text x="347" y="4012.9">2.5</text><text x="347" y="3900.3">3</text><text x="347" y="3787.6">3.5</text><text x="347" y="3675">4</text>
</g>
<g font-size="44" fill="#262626" text-anchor="middle">
<text x="374" y="4642">9</text><text x="812.5" y="4642">9.5</text><text x="1251" y="4642">10</text><text x="1689.5" y="4642">10.5</text><text x="2128" y="4642">11</text><text x="2566.5" y="4642">11.5</text><text x="3005" y="4642">12</text>
</g>
<text x="1689.5" y="4707" font-size="48" fill="#262626" text-anchor="middle" textLength="536" lengthAdjust="spacingAndGlyphs">UTC hours on 20240711</text>
<text transform="translate(232,4125.5) rotate(-90)" font-size="48" fill="#0072BD" text-anchor="middle" dominant-baseline="central" textLength="372" lengthAdjust="spacingAndGlyphs">Altitude, AGL km</text>
<rect x="3126" y="3679" width="140" height="892" fill="url(#jet)" stroke="#262626" stroke-width="2.6"/>
<g stroke="#262626" stroke-width="2.6">
<line x1="3256" y1="4459.5" x2="3266" y2="4459.5"/><line x1="3256" y1="4348" x2="3266" y2="4348"/><line x1="3256" y1="4236.5" x2="3266" y2="4236.5"/><line x1="3256" y1="4125" x2="3266" y2="4125"/><line x1="3256" y1="4013.5" x2="3266" y2="4013.5"/><line x1="3256" y1="3902" x2="3266" y2="3902"/><line x1="3256" y1="3790.5" x2="3266" y2="3790.5"/>
</g>
<g font-size="44" fill="#262626" dominant-baseline="central">
<text x="3288" y="4571">-4</text><text x="3288" y="4459.5">-3</text><text x="3288" y="4348">-2</text><text x="3288" y="4236.5">-1</text><text x="3288" y="4125">0</text><text x="3288" y="4013.5">1</text><text x="3288" y="3902">2</text><text x="3288" y="3790.5">3</text><text x="3288" y="3679">4</text>
</g>
<text transform="translate(3367,4198) rotate(-90)" font-size="42" fill="#262626" text-anchor="middle" dominant-baseline="central" textLength="600" lengthAdjust="spacingAndGlyphs">Weighted Doppler Velocity, m/s</text>
<text transform="translate(3422,4126) rotate(-90)" font-size="42" fill="#262626" text-anchor="middle" dominant-baseline="central" textLength="652" lengthAdjust="spacingAndGlyphs">(V<tspan font-size="30" dy="9">Ka</tspan><tspan dy="-9">*Z</tspan><tspan font-size="30" dy="9">Ka</tspan><tspan dy="-9"> + V</tspan><tspan font-size="30" dy="9">W</tspan><tspan dy="-9">*Z</tspan><tspan font-size="30" dy="9">W</tspan><tspan dy="-9">))/(Z</tspan><tspan font-size="30" dy="9">Ka</tspan><tspan dy="-9"> + Z</tspan><tspan font-size="30" dy="9">W</tspan><tspan dy="-9">))</tspan></text>
</svg>
</body></html>
